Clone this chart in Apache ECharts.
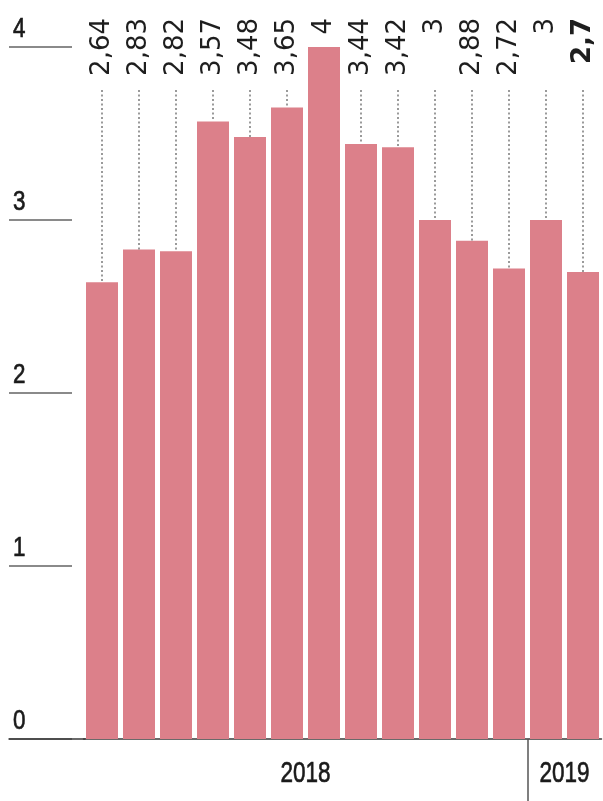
<!DOCTYPE html>
<html>
<head>
<meta charset="utf-8">
<script src="https://cdn.jsdelivr.net/npm/echarts@6/dist/echarts.min.js"></script>
<style>
html,body{margin:0;padding:0;background:#fff;}
#chart{width:603px;height:801px;}
</style>
</head>
<body>
<div id="chart"></div>
<script>
// ---- data ----
var categories = ['ene 2018','feb 2018','mar 2018','abr 2018','may 2018','jun 2018','jul 2018','ago 2018','sep 2018','oct 2018','nov 2018','dic 2018','ene 2019','feb 2019'];
var values = [2.64, 2.83, 2.82, 3.57, 3.48, 3.65, 4, 3.44, 3.42, 3, 2.88, 2.72, 3, 2.7];
var years = ['2018', '2019'];
var yearCounts = [12, 2];
var yTicks = [0, 1, 2, 3, 4];

// ---- derived ----
var yearCenters = [], yearSeparators = [];
(function () {
  var start = 0;
  for (var i = 0; i < years.length; i++) {
    yearCenters.push(start + (yearCounts[i] - 1) / 2);
    if (i > 0) yearSeparators.push(start - 0.5);
    start += yearCounts[i];
  }
})();
function fmt(v) { return String(v).replace('.', ','); }

var FONT_NARROW = '"Liberation Sans",Arial,sans-serif';
var FONT_VAL = '"DejaVu Sans",sans-serif';
var BAR = '#dc808a';
var TOP = 47, BOTTOM = 62;
var LABEL_TOP = 18, LINE_START = 90;

var chart = echarts.init(document.getElementById('chart'), null, {renderer: 'canvas'});
var option = {
  animation: false,
  backgroundColor: '#fff',
  grid: [
    {left: 83.5, right: 1.5, top: TOP, bottom: BOTTOM},
    {left: 9, width: 63, top: TOP, bottom: BOTTOM},
    {left: 9, width: 76, top: TOP, bottom: BOTTOM}
  ],
  xAxis: [
    {type: 'category', gridIndex: 0, data: categories,
     axisLine: {show: true, lineStyle: {color: '#3a3a3a', width: 1.5}},
     axisTick: {show: false}, axisLabel: {show: false}},
    {type: 'value', gridIndex: 0, position: 'bottom', min: -0.5, max: categories.length - 0.5,
     axisLine: {show: false}, splitLine: {show: false},
     axisTick: {show: true, customValues: yearSeparators, length: 62, lineStyle: {color: '#555', width: 1.5}},
     axisLabel: {show: false}},
    {type: 'value', gridIndex: 1, show: false, min: 0, max: 1},
    {type: 'value', gridIndex: 2, min: 0, max: 1,
     axisLine: {show: true, lineStyle: {color: '#3a3a3a', width: 1.5}},
     axisTick: {show: false}, axisLabel: {show: false}, splitLine: {show: false}}
  ],
  yAxis: [
    {type: 'value', gridIndex: 0, min: yTicks[0], max: yTicks[yTicks.length - 1], show: false},
    {type: 'value', gridIndex: 1, min: yTicks[0], max: yTicks[yTicks.length - 1], interval: 1,
     axisLine: {show: false}, axisTick: {show: false},
     splitLine: {show: true, lineStyle: {color: '#8a8a8a', width: 2}},
     axisLabel: {show: false}},
    {type: 'value', gridIndex: 2, show: false, min: 0, max: 1}
  ],
  series: [
    {type: 'bar', xAxisIndex: 0, yAxisIndex: 0, data: values, barWidth: 32,
     itemStyle: {color: BAR}, silent: true},
    // value labels + dotted leader lines
    {type: 'custom', xAxisIndex: 0, yAxisIndex: 0, clip: false, silent: true, z: 5,
     data: values.map(function (v, i) { return [i, v]; }),
     renderItem: function (params, api) {
       var idx = api.value(0);
       var p = api.coord([idx, api.value(1)]);
       var last = params.dataIndex === values.length - 1;
       var children = [{
         type: 'text', x: p[0], y: LABEL_TOP, rotation: Math.PI / 2,
         style: {text: fmt(api.value(1)), align: 'right', verticalAlign: 'middle',
           fontSize: 26, fontFamily: FONT_VAL, fontWeight: last ? 'bold' : 'normal', fill: '#1e1e1e'}
       }];
       if (p[1] > LINE_START) {
         children.push({type: 'line', shape: {x1: p[0], y1: LINE_START, x2: p[0], y2: p[1]},
           style: {stroke: '#7a7a7a', lineWidth: 1.5, lineDash: [2, 2.5]}});
       }
       return {type: 'group', children: children};
     }},
    // y tick labels (condensed)
    {type: 'custom', xAxisIndex: 2, yAxisIndex: 1, clip: false, silent: true, z: 5,
     data: yTicks.map(function (t) { return [0, t]; }),
     renderItem: function (params, api) {
       var p = api.coord([0, api.value(1)]);
       return {type: 'text', x: p[0] + 4, y: p[1] - 4, scaleX: 0.8,
         style: {text: String(api.value(1)), align: 'left', verticalAlign: 'bottom',
           fontSize: 28, lineHeight: 28, fontFamily: FONT_NARROW, fill: '#1a1a1a',
           stroke: '#1a1a1a', lineWidth: 0.7}};
     }},
    // year labels (condensed)
    {type: 'custom', xAxisIndex: 1, yAxisIndex: 0, clip: false, silent: true, z: 5,
     data: yearCenters.map(function (c, i) { return [c, 0, i]; }),
     renderItem: function (params, api) {
       var p = api.coord([api.value(0), 0]);
       return {type: 'text', x: p[0], y: p[1] + 35, scaleX: 0.75,
         style: {text: years[params.dataIndex], align: 'center', verticalAlign: 'middle',
           fontSize: 30, lineHeight: 30, fontFamily: FONT_NARROW, fill: '#1a1a1a',
           stroke: '#1a1a1a', lineWidth: 0.7}};
     }}
  ]
};
chart.setOption(option);
</script>
</body>
</html>
